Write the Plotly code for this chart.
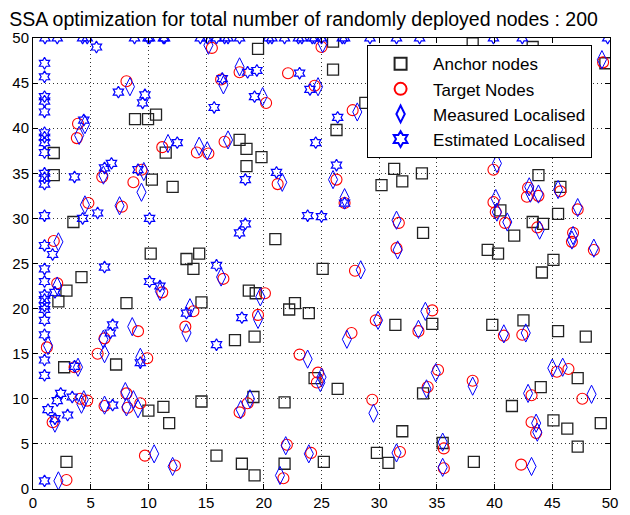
import plotly.graph_objects as go

anchor_x = [1.8, 1.8, 8.84, 9.97, 10.66, 11.5, 10.3, 12.1, 19.5, 26.0, 26.0, 28.8, 26.3, 17.9, 18.5, 19.8, 18.5,
            31.3, 32.0, 30.2, 38.1, 43.3, 49.6, 33.7, 43.8, 45.7, 40.5, 45.5, 43.3, 44.2, 33.8, 41.7, 39.4, 40.3,
            45.1, 44.1, 34.6, 39.8, 42.5, 45.5, 47.9, 3.5, 10.2, 13.3, 14.4, 13.9, 4.2, 2.9, 2.2, 8.1, 14.6, 21.0,
            25.1, 18.7, 19.3, 22.7, 22.2, 23.9, 31.4, 19.2, 17.5, 2.7, 7.2, 10.0, 11.3, 11.8, 14.6, 2.9, 15.9, 24.4,
            26.4, 19.1, 21.8, 18.1, 19.2, 21.8, 25.2, 29.8, 30.8, 32.0, 33.8, 44.0, 41.5, 45.1, 46.3, 49.2, 47.2,
            47.2, 38.2, 35.5]
anchor_y = [37.25, 34.8, 41.0, 41.0, 41.5, 37.3, 34.3, 33.5, 48.8, 49.6, 46.5, 42.8, 39.8, 38.7, 37.7, 36.8, 35.8,
            35.5, 34.1, 33.7, 49.4, 49.0, 47.2, 35.0, 34.8, 33.5, 30.9, 30.5, 29.6, 29.4, 28.4, 28.1, 26.5, 26.1,
            25.4, 24.0, 18.3, 18.2, 18.7, 17.5, 16.9, 29.6, 26.1, 25.5, 26.1, 24.4, 23.5, 22.0, 20.8, 20.6, 20.7, 27.7,
            24.4, 22.0, 21.7, 20.6, 19.9, 19.5, 18.2, 16.9, 16.5, 13.5, 13.8, 8.7, 9.1, 7.3, 9.7, 3.0, 3.7, 12.3,
            11.1, 10.2, 9.6, 2.8, 1.5, 2.8, 3.0, 4.0, 2.9, 6.4, 10.6, 11.3, 9.2, 7.6, 6.7, 7.3, 12.3,
            4.7, 3.0, 5.1]

target_x = [8.1, 3.9, 3.8, 15.5, 16.3, 11.2, 14.2, 15.2, 6.0, 9.4, 8.7, 25.0, 17.9, 22.1, 24.4, 20.2, 27.7, 16.6,
            21.2, 26.3, 49.4, 39.9, 42.9, 42.8, 43.8, 45.7, 39.9, 40.1, 47.2, 40.9, 43.7, 46.8, 46.7, 48.6, 34.6,
            33.4, 40.8, 42.4, 4.8, 7.7, 1.8, 2.1, 11.2, 13.9, 13.2, 16.5, 9.1, 6.2, 27.0, 31.7, 31.5, 27.9, 20.1,
            19.5, 29.7, 27.6, 1.2, 5.6, 3.6, 9.9, 4.1, 4.7, 1.7, 6.2, 8.1, 8.2, 9.3, 9.7, 12.3, 2.9, 23.1, 24.7,
            24.6, 29.4, 18.6, 17.9, 22.0, 24.1, 21.7, 31.8, 35.1, 34.2, 38.1, 43.2, 45.4, 46.4, 47.6, 43.2, 43.6,
            35.6, 35.6, 42.3]
target_y = [45.2, 40.5, 38.9, 48.9, 45.4, 37.9, 37.3, 37.2, 34.6, 35.4, 34.0, 49.0, 46.2, 46.1, 44.7, 42.8, 42.0, 38.5,
            33.8, 34.3, 47.3, 35.4, 33.4, 32.4, 32.5, 33.0, 31.8, 30.7, 31.0, 29.5, 29.0, 28.4, 27.4, 26.5, 19.8,
            17.5, 17.0, 17.1, 31.7, 31.3, 27.5, 22.8, 21.8, 19.7, 18.0, 23.3, 17.5, 16.7, 31.7, 29.5, 26.7, 24.2, 21.7,
            19.3, 18.7, 17.3, 15.7, 15.0, 13.5, 14.5, 10.0, 9.8, 7.4, 9.2, 10.6, 9.0, 9.5, 3.7, 2.6, 1.0, 14.9, 12.9,
            11.8, 9.9, 9.5, 8.5, 4.9, 4.0, 1.2, 4.1, 13.2, 11.3, 12.0, 10.4, 13.0, 13.3, 10.0, 7.4, 6.2,
            4.5, 2.3, 2.7]

measured_x = [8.4, 4.5, 4.0, 15.2, 16.5, 11.7, 14.4, 15.1, 6.1, 9.6, 9.4, 25.1, 17.9, 24.7, 19.9, 28.1, 16.9,
              21.6, 26.0, 49.3, 40.2, 43.0, 43.1, 43.8, 45.5, 40.1, 40.2, 47.2, 41.1, 43.9, 46.8, 46.7, 48.6, 34.0,
              33.4, 40.8, 42.7, 4.5, 7.5, 2.2, 2.1, 11.0, 13.6, 13.3, 16.3, 8.6, 6.1, 27.0, 31.5, 31.6, 28.4, 19.7,
              19.5, 29.9, 27.2, 1.3, 6.2, 3.9, 9.3, 4.2, 4.4, 1.9, 6.2, 8.0, 8.1, 8.7, 9.1, 10.5, 12.1, 2.2, 23.8,
              25.0, 24.9, 29.5, 18.8, 18.0, 21.9, 23.9, 21.4, 31.5, 34.9, 34.1, 38.1, 42.9, 45.0, 45.9, 48.4, 43.6,
              43.7, 35.5, 35.5, 43.2]
measured_y = [44.6, 40.4, 39.2, 49.2, 44.8, 38.3, 38.0, 37.5, 34.8, 35.2, 32.9, 49.4, 46.8, 44.6, 43.5, 41.8, 38.7,
              34.0, 34.3, 47.6, 36.1, 33.5, 32.8, 32.7, 33.2, 32.2, 30.7, 31.2, 29.6, 28.7, 28.1, 27.6, 26.7, 19.7,
              17.7, 17.2, 17.3, 31.5, 31.4, 27.4, 22.5, 21.9, 20.1, 17.3, 23.5, 18.0, 16.6, 32.3, 29.8, 26.5, 24.3, 21.3,
              18.8, 18.7, 16.6, 15.9, 15.0, 13.5, 14.6, 9.4, 9.9, 7.3, 9.3, 10.8, 9.1, 9.9, 8.9, 3.9, 2.5, 0.9, 14.4,
              12.4, 11.8, 8.4, 10.0, 8.8, 4.8, 3.9, 1.5, 4.0, 12.9, 11.1, 11.4, 10.6, 13.4, 13.5, 10.5, 7.3,
              6.3, 5.2, 2.4, 2.5]

estimated_x = [1.04, 2.1, 4.3, 4.7, 8.8, 9.97, 10.1, 11.3, 11.4, 14.5, 15.1, 15.9, 16.6, 16.9, 17.9, 20.4, 20.7,
               21.8, 23.0, 23.3, 24.2, 24.4, 25.0, 26.8, 27.0, 29.2, 31.5, 33.5, 39.9, 42.4, 49.8,
               5.5,
               1.0, 1.0, 1.0, 1.0, 1.0, 1.0, 1.0, 1.0, 1.0, 1.0, 1.0, 1.0, 1.0, 1.0, 1.0, 1.0, 1.0, 1.0, 1.0,
               1.0, 1.0, 1.0, 1.0, 1.0, 1.3, 1.0, 1.7, 1.9,
               7.4, 9.7, 9.5, 4.4, 15.7, 12.5, 3.6, 6.2, 6.8, 9.1, 16.4, 18.6, 19.4, 23.1, 24.0, 19.2, 26.4, 24.5,
               26.3, 18.4, 21.1, 4.3, 5.6, 10.1, 6.2, 10.1, 11.0, 13.3, 15.9, 6.9, 6.7, 27.0, 23.8, 25.0, 18.4,
               17.9, 18.1, 15.9, 9.3, 3.6, 2.4, 2.1, 3.4, 1.9, 3.0, 6.9]
estimated_y = [50] * 31 + [
               49.0,
               47.2, 45.7, 43.5, 43.0, 41.8, 39.5, 39.0, 38.4, 37.3, 35.0, 34.5, 33.8, 30.3, 27.0, 24.4, 23.0, 21.5,
               21.0, 20.3, 19.9, 18.7, 17.1, 14.3, 12.6, 8.8, 0.9, 26.0, 21.8,
               44.0, 43.7, 42.8, 40.9, 42.3, 38.4, 34.6, 35.6, 36.1, 35.4, 45.5, 46.2, 46.4, 46.1, 44.3, 43.5, 41.2,
               38.4, 35.9, 34.3, 35.1, 30.0, 30.6, 30.0, 24.6, 23.0, 22.5, 19.5, 24.8, 18.2, 17.3, 31.7, 30.3, 30.2,
               29.4, 28.4, 19.0, 16.0, 14.0, 13.6, 10.6, 9.8, 10.2, 7.8, 8.2, 9.3]

ticks = [0, 5, 10, 15, 20, 25, 30, 35, 40, 45, 50]
title_text = "SSA optimization for total number of randomly deployed nodes : 200"
FONT = "Liberation Sans, Arial"

fig = go.Figure()
fig.add_trace(go.Scatter(x=anchor_x, y=anchor_y, mode="markers", name="Anchor nodes",
                         marker=dict(symbol="square-open", size=11, color="#222222", line=dict(width=1.3))))
fig.add_trace(go.Scatter(x=target_x, y=target_y, mode="markers", name="Target Nodes",
                         marker=dict(symbol="circle-open", size=11, color="#ff0000", line=dict(width=1.1))))
fig.add_trace(go.Scatter(x=measured_x, y=measured_y, mode="markers", name="Measured Localised",
                         marker=dict(symbol="diamond-tall-open", size=13, color="#0000ff", line=dict(width=1))))
fig.add_trace(go.Scatter(x=estimated_x, y=estimated_y, mode="markers", name="Estimated Localised",
                         marker=dict(symbol="hexagram-open", size=9, color="#0000ff", line=dict(width=1.2))))

axis_common = dict(range=[0, 50], tickvals=ticks, ticks="inside", ticklen=5, tickcolor="black",
                   showline=True, linecolor="black", linewidth=1, mirror="ticks", automargin=False,
                   showgrid=True, gridcolor="#333333", griddash="1px,3px", gridwidth=1, zeroline=False,
                   tickfont=dict(size=15, color="black", family=FONT))

fig.update_layout(
    width=622, height=507,
    margin=dict(l=25, r=20, t=30, b=26),
    paper_bgcolor="white", plot_bgcolor="white",
    title=dict(text=title_text, x=0.002, xanchor="left", y=0.978, yanchor="middle", yref="container",
               font=dict(size=19.5, color="black", family=FONT)),
    xaxis=axis_common, yaxis=axis_common,
    legend=dict(x=0.579, y=0.984, xanchor="left", yanchor="top", bgcolor="white", bordercolor="black",
                borderwidth=1, font=dict(size=17, color="black", family=FONT),
                itemsizing="constant", itemwidth=55),
    showlegend=True,
)
fig.write_html("out.html")
